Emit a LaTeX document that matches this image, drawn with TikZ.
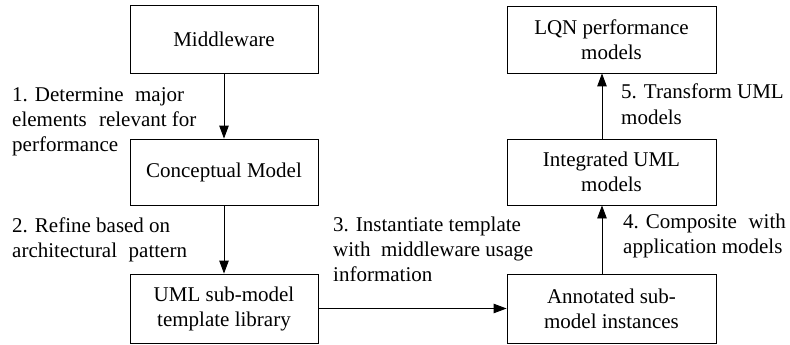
\documentclass[tikz,border=0pt]{standalone}
\usepackage{fontspec}
\setmainfont{Liberation Serif}
\usetikzlibrary{arrows.meta}
\begin{document}
\begin{tikzpicture}[x=1pt,y=-1pt,
  font=\fontsize{21}{25}\selectfont,
  stagebox/.style={draw, line width=0.9pt, inner sep=0pt, align=center,
    minimum height=68pt},
  leftbox/.style={stagebox, minimum width=188pt},
  rightbox/.style={stagebox, minimum width=209pt},
  steplabel/.style={anchor=base west, inner sep=0pt, align=left},
  flow/.style={line width=0.9pt, -{Triangle[length=13pt,width=9.5pt]}}]
\useasboundingbox (0,0) rectangle (790,345);

% left column: middleware down to the template library
\node[leftbox] (mw)   at (224,39)    {Middleware};
\node[leftbox, minimum height=66pt] (cm) at (224,172) {Conceptual Model};
\node[leftbox, minimum height=69pt] (tpl) at (224,308.5) {UML sub-model\\template library};

% right column: annotated instances up to the LQN models
\node[rightbox, minimum height=67pt] (lqn) at (611.5,39.5) {LQN performance\\models};
\node[rightbox, minimum height=66pt] (int) at (611.5,172) {Integrated UML\\models};
\node[rightbox, minimum height=69pt] (ann) at (611.5,308.5) {Annotated sub-\\model instances};

% connectors
\draw[flow] (mw.south) -- (cm.north);
\draw[flow] (cm.south) -- (tpl.north);
\draw[flow] (tpl.east) -- (ann.west);
\draw[flow] ([xshift=-9.5pt]ann.north) -- ([xshift=-9.5pt]int.south);
\draw[flow] ([xshift=-9.5pt]int.north) -- ([xshift=-9.5pt]lqn.south);

% step labels (placed by the baseline of their last line)
\node[steplabel] (s1) at (12,151)
  {1. Determine\hspace{0.55em}major\\elements\hspace{0.58em}relevant for\\performance};
\node[steplabel] (s2) at (12,257)
  {2. Refine based on\\architectural\hspace{0.55em}pattern};
\node[steplabel] (s3) at (333,281)
  {3. Instantiate template\\with\hspace{0.5em}middleware usage\\information};
\node[steplabel] (s4) at (623,253)
  {4. Composite\hspace{0.55em}with\\application models};
\node[steplabel] (s5) at (621,124)
  {5. Transform UML\\models};
\end{tikzpicture}
\end{document}
